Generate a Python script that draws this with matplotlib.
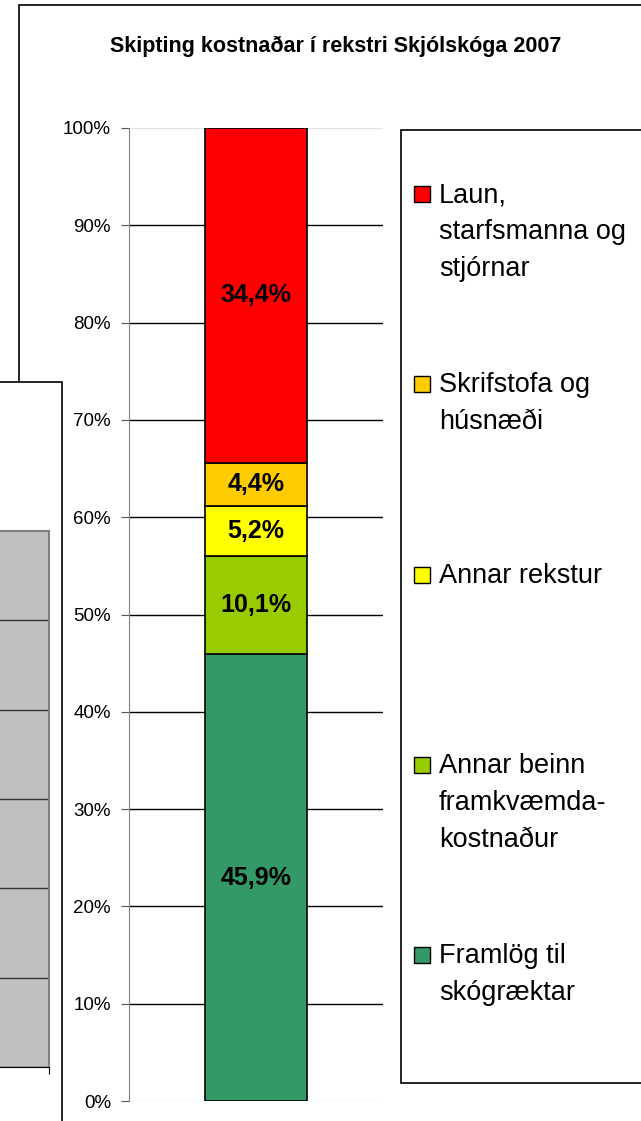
import matplotlib
matplotlib.use('Agg')
import matplotlib.pyplot as plt
from matplotlib.patches import Rectangle

plt.rcParams['font.family'] = ['Liberation Sans', 'DejaVu Sans']

# gögn, neðst upp
flokkar = ['Framlög til\nskógræktar',
           'Annar beinn\nframkvæmda-\nkostnaður',
           'Annar rekstur',
           'Skrifstofa og\nhúsnæði',
           'Laun,\nstarfsmanna og\nstjórnar']
hlutfall = [45.9, 10.1, 5.2, 4.4, 34.4]
litir = ['#339966', '#99CC00', '#FFFF00', '#FFCC00', '#FF0000']
yticks = list(range(0, 101, 10))
titill = 'Skipting kostnaðar í rekstri Skjólskóga 2007'

W, H = 641, 1121
fig = plt.figure(figsize=(W / 100, H / 100), dpi=100)


def fx(x):
    return x / W


def fy(y):
    return 1 - y / H


# rammi um myndina
fig.add_artist(Rectangle((fx(19), -0.1), 2, fy(5) + 0.1, fill=False,
                         edgecolor='black', lw=1.2, transform=fig.transFigure, zorder=0))
# annað línurit sem liggur yfir vinstra megin
fig.add_artist(Rectangle((-0.1, -0.1), fx(62) + 0.1, fy(382) + 0.1, facecolor='white',
                         edgecolor='black', lw=1.2, transform=fig.transFigure, zorder=1))

ax2 = fig.add_axes([fx(-150), fy(1067), (49 + 150) / W, (1067 - 531) / H])
ax2.set_zorder(2)
ax2.set_facecolor('#C0C0C0')
ax2.set_ylim(0, 6)
ax2.set_xlim(0, 1)
ax2.set_yticks(range(6))
ax2.grid(axis='y', color='#333333', lw=1)
ax2.set_xticks([1])
ax2.tick_params(axis='x', length=5, color='black', labelbottom=False)
ax2.tick_params(axis='y', length=0, labelleft=False)
ax2.spines['left'].set_visible(False)
ax2.spines['right'].set_color('#808080')
ax2.spines['right'].set_linewidth(1.5)
ax2.spines['top'].set_color('#808080')
ax2.spines['top'].set_linewidth(1.5)
ax2.spines['bottom'].set_color('black')

# aðallínurit
ax = fig.add_axes([fx(129), fy(1101), (383 - 129) / W, (1101 - 128) / H])
ax.set_zorder(2)
neðst = 0
for v, c in zip(hlutfall, litir):
    ax.bar(0, v, width=0.402, bottom=neðst, color=c, edgecolor='black', lw=1.2, zorder=3)
    ax.text(0, neðst + v / 2, f'{v:.1f}'.replace('.', ',') + '%', ha='center', va='center',
            fontsize=18, fontweight='bold', zorder=4)
    neðst += v

ax.set_xlim(-0.5, 0.5)
ax.set_ylim(0, 100)
ax.set_xticks([])
ax.set_yticks(yticks)
ax.set_yticklabels([f'{t}%' for t in yticks], fontsize=13.5)
ax.tick_params(axis='y', length=6, pad=7, color='#555555')
ax.grid(axis='y', color='black', lw=1)
ax.set_axisbelow(True)
gl = ax.yaxis.get_gridlines()
gl[0].set_color('#e4e4e4')
gl[-1].set_color('#e4e4e4')
for s in ['top', 'right', 'bottom']:
    ax.spines[s].set_visible(False)
ax.spines['left'].set_color('#808080')

fig.text(fx(336), fy(46), titill, ha='center', va='center', fontsize=15.5, fontweight='bold')

# skýringar
fig.add_artist(Rectangle((fx(401), fy(1083)), 1, (1083 - 130) / H, facecolor='white',
                         edgecolor='black', lw=1.2, transform=fig.transFigure, zorder=1))
for i, (lab, c) in enumerate(zip(flokkar[::-1], litir[::-1])):
    cy = 194 + i * 190.3
    fig.add_artist(Rectangle((fx(414), fy(cy + 8)), 16 / W, 16 / H, facecolor=c,
                             edgecolor='black', lw=1, transform=fig.transFigure, zorder=3))
    fig.text(fx(439), fy(cy - 12), lab, ha='left', va='top', fontsize=19.5,
             linespacing=1.55, zorder=3)

fig.savefig('out.png', dpi=100)
